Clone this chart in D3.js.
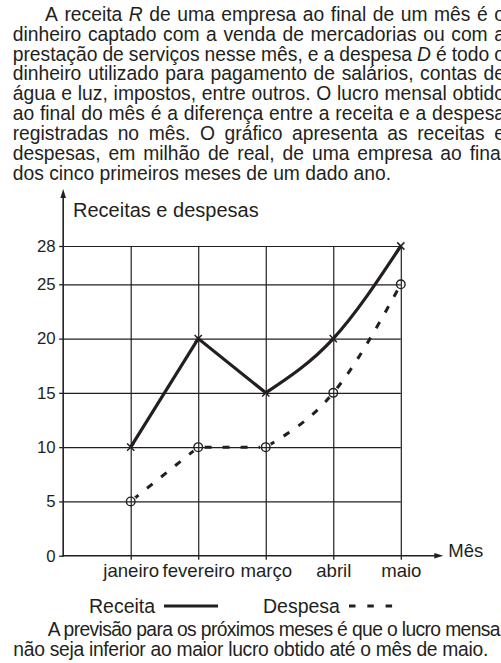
<!DOCTYPE html>
<html>
<head>
<meta charset="utf-8">
<script src="https://cdn.jsdelivr.net/npm/d3@7"></script>
<style>
  html, body { margin: 0; padding: 0; background: #fff; overflow: hidden; }
  svg { display: block; }
</style>
</head>
<body>
<script>
// ---------- data ----------
const months = ["janeiro", "fevereiro", "março", "abril", "maio"];
const receita = [10, 20, 15, 20, 28];
const despesa = [5, 10, 10, 15, 25];
const yTicks = [0, 5, 10, 15, 20, 25, 28];
const titleText = "Receitas e despesas";
const xAxisLabel = "Mês";
const legendLabels = ["Receita", "Despesa"];
const paragraph = [
  "A receita *R* de uma empresa ao final de um mês é o",
  "dinheiro captado com a venda de mercadorias ou com a",
  "prestação de serviços nesse mês, e a despesa *D* é todo o",
  "dinheiro utilizado para pagamento de salários, contas de",
  "água e luz, impostos, entre outros. O lucro mensal obtido",
  "ao final do mês é a diferença entre a receita e a despesa",
  "registradas no mês. O gráfico apresenta as receitas e",
  "despesas, em milhão de real, de uma empresa ao final",
  "dos cinco primeiros meses de um dado ano."
];
const footer = [
  "A previsão para os próximos meses é que o lucro mensal",
  "não seja inferior ao maior lucro obtido até o mês de maio."
];

// ---------- setup ----------
const W = 501, H = 663;
const ink = "#231f20";
const FONT = "'Liberation Sans', Arial, Helvetica, sans-serif";
const svg = d3.select("body").append("svg")
  .attr("width", W).attr("height", H)
  .style("font-family", FONT);

// ---------- paragraph (justified) ----------
const pSize = 19.3;
paragraph.forEach((line, i) => {
  const y = 20.7 + i * 19.9;
  const x0 = i === 0 ? 45 : 12.7;
  const justify = i < paragraph.length - 1;
  const words = line.split(" ").map(w => ({
    text: w.replace(/\*/g, ""),
    italic: /^\*.*\*$/.test(w)
  }));
  const g = svg.append("g").attr("fill", ink).style("font-size", pSize + "px");
  const nodes = words.map(w => g.append("text")
    .attr("y", y)
    .style("font-style", w.italic ? "italic" : "normal")
    .text(w.text));
  const widths = nodes.map(n => n.node().getComputedTextLength());
  const sum = d3.sum(widths);
  let gap;
  if (justify) {
    gap = (505 - x0 - sum) / (words.length - 1);
  } else {
    const probe = g.append("text").text("a a");
    const probe2 = g.append("text").text("aa");
    gap = probe.node().getComputedTextLength() - probe2.node().getComputedTextLength();
    probe.remove(); probe2.remove();
  }
  let x = x0;
  nodes.forEach((n, k) => { n.attr("x", x); x += widths[k] + gap; });
});

// ---------- scales ----------
const x = d3.scalePoint().domain(months).range([130.7, 400.8]);
const step = x.step();
const xOrigin = x(months[0]) - step;            // y-axis position
const y = d3.scaleLinear().domain([0, 25, 28]).range([555.7, 284.3, 246]);
const yTop = y(28);
const yZero = y(0);

// ---------- grid ----------
const gridH = svg.append("g")
  .attr("transform", `translate(${xOrigin},0)`)
  .call(d3.axisLeft(y).tickValues(yTicks.filter(d => d > 0)).tickSize(-(x(months[4]) - xOrigin)).tickFormat(""));
gridH.select(".domain").remove();
gridH.selectAll("line").attr("stroke", ink).attr("stroke-width", 1.2);

const gridV = svg.append("g")
  .attr("transform", `translate(0,${yZero})`)
  .call(d3.axisBottom(x).tickSize(-(yZero - yTop)).tickFormat(""));
gridV.select(".domain").remove();
gridV.selectAll("line").attr("stroke", ink).attr("stroke-width", 1.2);

// ---------- axes ----------
const yAx = svg.append("g")
  .attr("transform", `translate(${xOrigin},0)`)
  .call(d3.axisLeft(y).tickValues(yTicks).tickSize(4).tickPadding(3.5));
yAx.select(".domain").remove();
yAx.selectAll("line").attr("stroke", ink).attr("stroke-width", 1.3);
yAx.selectAll("text").attr("fill", ink).style("font-size", "16.8px").style("font-family", FONT);

const xAx = svg.append("g")
  .attr("transform", `translate(0,${yZero})`)
  .call(d3.axisBottom(x).tickSize(4).tickPadding(0));
xAx.select(".domain").remove();
xAx.selectAll("line").attr("stroke", ink).attr("stroke-width", 1.3);
xAx.selectAll("text").attr("fill", ink).attr("dy", null).attr("y", 21.5)
  .style("font-size", "18.6px").style("font-family", FONT);

// axis lines with arrows
const yArrowTip = 189;
const xArrowTip = 443.3;
svg.append("line").attr("x1", xOrigin).attr("x2", xOrigin).attr("y1", yZero + 0.7).attr("y2", yArrowTip + 6)
  .attr("stroke", ink).attr("stroke-width", 1.6);
svg.append("path")
  .attr("d", `M${xOrigin},${yArrowTip}L${xOrigin - 2.8},${yArrowTip + 9}L${xOrigin + 2.8},${yArrowTip + 9}Z`)
  .attr("fill", ink);
svg.append("line").attr("x1", xOrigin - 0.8).attr("x2", xArrowTip - 6).attr("y1", yZero).attr("y2", yZero)
  .attr("stroke", ink).attr("stroke-width", 1.6);
svg.append("path")
  .attr("d", `M${xArrowTip},${yZero}L${xArrowTip - 9},${yZero - 2.8}L${xArrowTip - 9},${yZero + 2.8}Z`)
  .attr("fill", ink);

svg.append("text").attr("x", 448.3).attr("y", yZero + 1.5).attr("fill", ink)
  .style("font-size", "18.5px").text(xAxisLabel);
svg.append("text").attr("x", 73).attr("y", 217.3).attr("fill", ink)
  .style("font-size", "20px").text(titleText);

// ---------- series ----------
const idx = d3.range(months.length);
const lineLin = d3.line().x(i => x(months[i])).curve(d3.curveLinear);
const lineCur = d3.line().x(i => x(months[i])).curve(d3.curveMonotoneX);

function seriesPath(vals) {
  const a = lineLin.y(i => y(vals[i]))(idx.slice(0, 3));
  const b = lineCur.y(i => y(vals[i]))(idx.slice(2));
  return a + b;
}

// mask for circles on despesa
const defs = svg.append("defs");
const mask = defs.append("mask").attr("id", "circMask").attr("maskUnits", "userSpaceOnUse")
  .attr("x", 0).attr("y", 0).attr("width", W).attr("height", H);
mask.append("rect").attr("width", W).attr("height", H).attr("fill", "#fff");
mask.selectAll("circle").data(idx).join("circle")
  .attr("cx", i => x(months[i])).attr("cy", i => y(despesa[i])).attr("r", 6).attr("fill", "#000");

svg.append("path").attr("d", seriesPath(despesa))
  .attr("fill", "none").attr("stroke", ink).attr("stroke-width", 3)
  .attr("stroke-dasharray", "7,11").attr("stroke-dashoffset", -3)
  .attr("mask", "url(#circMask)");

svg.append("path").attr("d", seriesPath(receita))
  .attr("fill", "none").attr("stroke", ink).attr("stroke-width", 3.2)
  .attr("stroke-linejoin", "miter");

svg.selectAll(".cross").data(idx).join("path").attr("class", "cross")
  .attr("transform", i => `translate(${x(months[i])},${y(receita[i])})`)
  .attr("d", "M-3.6,-3.6L3.6,3.6M-3.6,3.6L3.6,-3.6")
  .attr("stroke", ink).attr("stroke-width", 1.5).attr("fill", "none");

svg.selectAll(".circ").data(idx).join("circle").attr("class", "circ")
  .attr("cx", i => x(months[i])).attr("cy", i => y(despesa[i])).attr("r", 4.3)
  .attr("fill", "none").attr("stroke", ink).attr("stroke-width", 1.4);

// ---------- legend ----------
const legY = 606;
svg.append("text").attr("x", 89).attr("y", 612.5).attr("fill", ink).style("font-size", "19.5px").text(legendLabels[0]);
svg.append("line").attr("x1", 164).attr("x2", 218).attr("y1", legY).attr("y2", legY)
  .attr("stroke", ink).attr("stroke-width", 3);
svg.append("text").attr("x", 263).attr("y", 612.5).attr("fill", ink).style("font-size", "19.5px").text(legendLabels[1]);
svg.append("line").attr("x1", 349).attr("x2", 394).attr("y1", legY).attr("y2", legY)
  .attr("stroke", ink).attr("stroke-width", 3).attr("stroke-dasharray", "6.5,11.8");

// ---------- footer ----------
svg.append("text").attr("x", 47.7).attr("y", 636).attr("fill", ink).style("font-size", "19.3px")
  .attr("textLength", 456.5).attr("lengthAdjust", "spacing").text(footer[0]);
svg.append("text").attr("x", 13.3).attr("y", 656).attr("fill", ink).style("font-size", "19.3px")
  .attr("textLength", 475).attr("lengthAdjust", "spacing").text(footer[1]);
</script>
</body>
</html>
